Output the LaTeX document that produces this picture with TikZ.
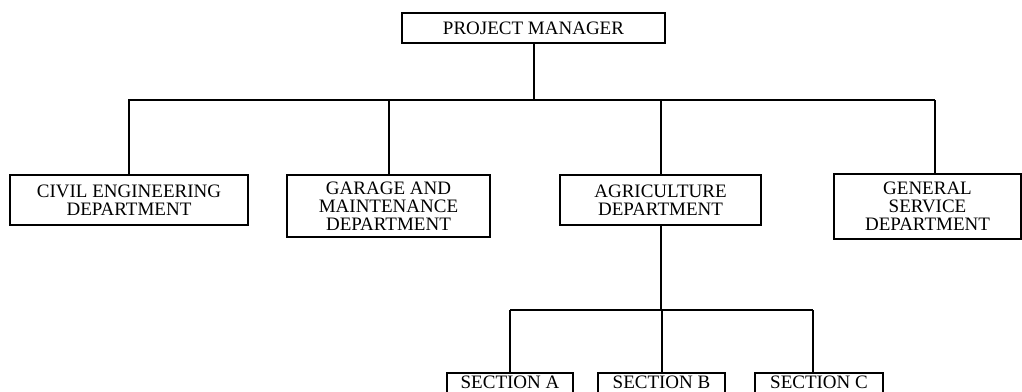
\documentclass[tikz,border=0pt]{standalone}
\usepackage{fontspec}
\setmainfont{Liberation Serif}
\usepackage{tikz}
\usetikzlibrary{positioning, calc}
\tikzset{
  box/.style={
    rectangle, draw=black, line width=1pt, inner sep=0pt,
    align=center, font=\fontsize{9.5}{9}\selectfont
  },
  section/.style={box, minimum height=11pt, text height=6.5pt, text depth=2pt},
  link/.style={line width=1pt, color=black},
}

\begin{document}
\begin{tikzpicture}[x=0.5pt, y=-0.5pt]
  \useasboundingbox (0,0) rectangle (1022,391);

  \node (pm)   [box, minimum width=131.5pt, minimum height=15pt] at (533.5,28) {PROJECT MANAGER};

  \node (civ)  [box, minimum width=119pt,   minimum height=25pt]   at (129,200)   {CIVIL ENGINEERING\\DEPARTMENT};
  \node (gar)  [box, minimum width=101.5pt, minimum height=31pt]   at (388.5,206) {GARAGE AND\\MAINTENANCE\\DEPARTMENT};
  \node (agr)  [box, minimum width=100.5pt, minimum height=25pt]   at (660.5,200) {AGRICULTURE\\DEPARTMENT};
  \node (gen)  [box, minimum width=93.5pt,  minimum height=32.5pt] at (927.5,206.5) {GENERAL\\SERVICE\\DEPARTMENT};

  \node (secA) [section, minimum width=63pt]   at (510,384)   {SECTION A};
  \node (secB) [section, minimum width=63.5pt] at (661.5,384) {SECTION B};
  \node (secC) [section, minimum width=64pt]   at (819,384)   {SECTION C};

  % main bar under the manager
  \coordinate (barL) at (128,100);
  \coordinate (barR) at (935,100);
  \draw [link] (pm.south) -- (pm.south |- barL);
  \draw [link] (barL) -- (barR);
  \draw [link] (civ.north) -- (civ.north |- barL);
  \draw [link] (gar.north) -- (gar.north |- barL);
  \draw [link] (agr.north) -- (agr.north |- barL);
  \draw [link] (barR) -- (barR |- gen.north);

  % sections under agriculture
  \coordinate (subL) at (510,310);
  \coordinate (subR) at (813,310);
  \draw [link] (agr.south) -- (agr.south |- subL);
  \draw [link] (subL) -- (subR);
  \draw [link] (subL) -- (secA.north);
  \draw [link] (secB.north |- subL) -- (secB.north);
  \draw [link] (subR) -- (subR |- secC.north);
\end{tikzpicture}
\end{document}
